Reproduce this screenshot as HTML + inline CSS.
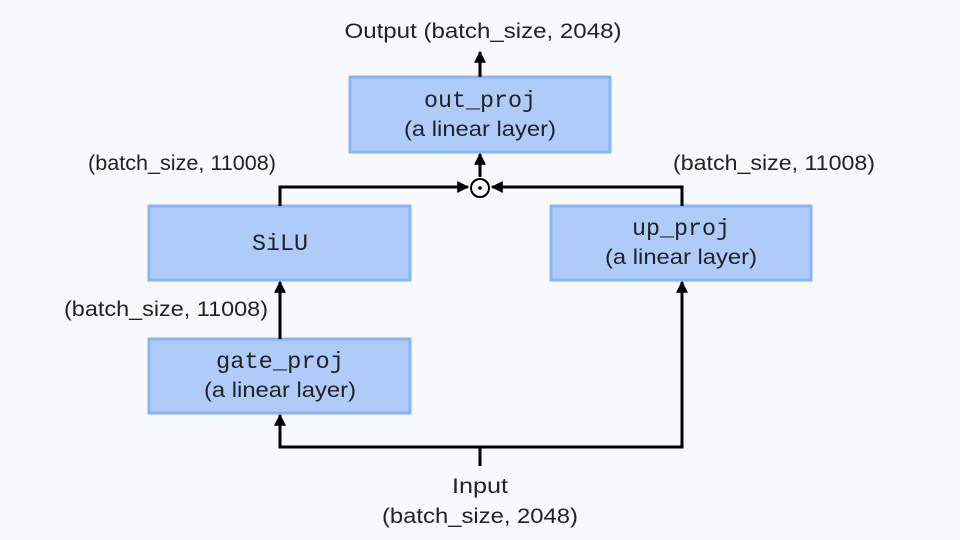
<!DOCTYPE html>
<html><head><style>
body{margin:0;background:#f8f9fc}
svg{display:block}
text{font-family:"Liberation Sans",sans-serif;font-size:21px;fill:#222}
.m{font-family:"Liberation Mono",monospace;font-size:23px}
</style></head><body>
<svg width="960" height="540" viewBox="0 0 960 540">
<defs><marker id="a" viewBox="0 0 10 10" refX="9" refY="5" markerWidth="4" markerHeight="4" orient="auto"><path d="M0,0L10,5L0,10z" fill="#000"/></marker></defs>
<g fill="#aecbfa" stroke="#8ab4f8" stroke-width="3">
<rect x="350" y="77" width="260" height="75"/>
<rect x="149" y="206" width="261" height="74"/>
<rect x="551" y="206" width="260" height="74"/>
<rect x="149" y="339" width="261" height="74"/>
</g>
<g stroke="#000" stroke-width="3" fill="none">
<path d="M480 466V447"/>
<path d="M480 447H280V415" marker-end="url(#a)"/>
<path d="M480 447H682V282" marker-end="url(#a)"/>
<path d="M280 339V282" marker-end="url(#a)"/>
<path d="M280 206V187H468" marker-end="url(#a)"/>
<path d="M682 206V187H492" marker-end="url(#a)"/>
<path d="M480 177V154" marker-end="url(#a)"/>
<path d="M480 77V52" marker-end="url(#a)"/>
<circle cx="480" cy="188" r="9" stroke-width="2"/>
</g>
<circle cx="480" cy="188" r="1.8" fill="#000"/>
<g text-anchor="middle" lengthAdjust="spacingAndGlyphs">
<text x="483" y="38" textLength="277" lengthAdjust="spacingAndGlyphs">Output (batch_size, 2048)</text>
<text class="m" x="480" y="107" textLength="112" lengthAdjust="spacingAndGlyphs">out_proj</text>
<text x="480" y="136" textLength="152" lengthAdjust="spacingAndGlyphs">(a linear layer)</text>
<text class="m" x="280" y="250" textLength="56" lengthAdjust="spacingAndGlyphs">SiLU</text>
<text class="m" x="681" y="235" textLength="98" lengthAdjust="spacingAndGlyphs">up_proj</text>
<text x="681" y="264" textLength="152" lengthAdjust="spacingAndGlyphs">(a linear layer)</text>
<text class="m" x="280" y="368" textLength="128" lengthAdjust="spacingAndGlyphs">gate_proj</text>
<text x="280" y="397" textLength="152" lengthAdjust="spacingAndGlyphs">(a linear layer)</text>
<text x="182" y="170" textLength="188" lengthAdjust="spacingAndGlyphs">(batch_size, 11008)</text>
<text x="774" y="170" textLength="202" lengthAdjust="spacingAndGlyphs">(batch_size, 11008)</text>
<text x="166" y="316" textLength="204" lengthAdjust="spacingAndGlyphs">(batch_size, 11008)</text>
<text x="480" y="493" textLength="56" lengthAdjust="spacingAndGlyphs">Input</text>
<text x="480" y="523" textLength="196" lengthAdjust="spacingAndGlyphs">(batch_size, 2048)</text>
</g>
</svg>
</body></html>
